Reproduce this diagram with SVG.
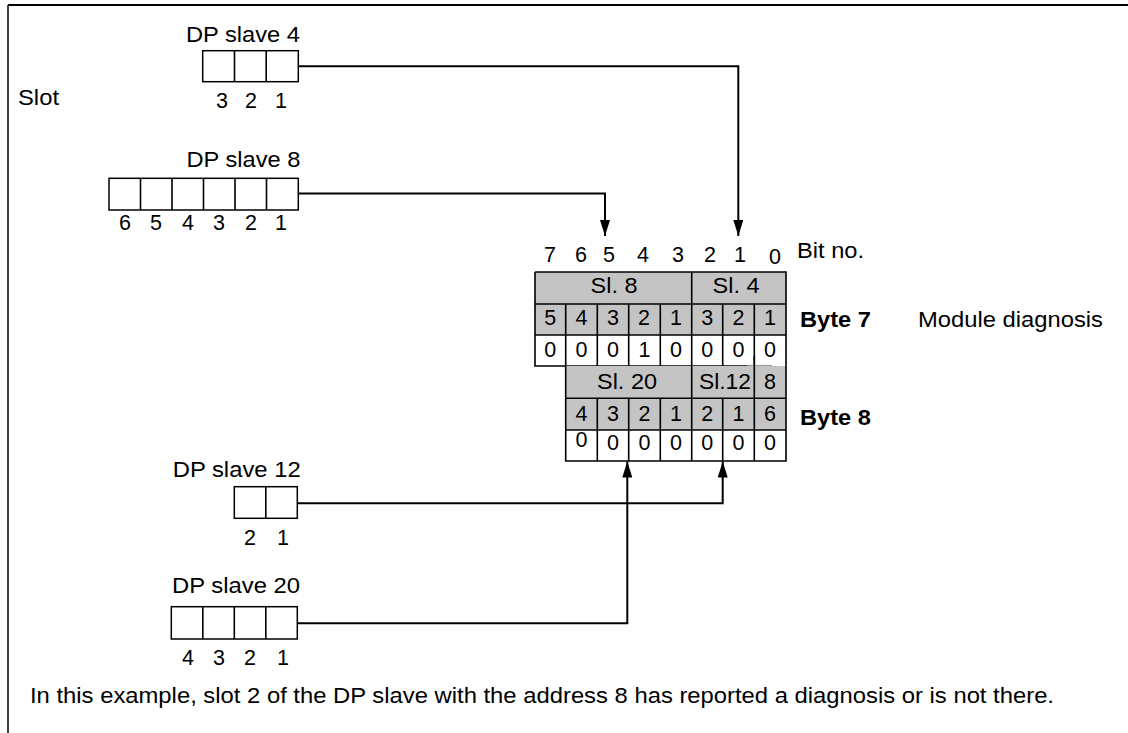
<svg xmlns="http://www.w3.org/2000/svg" width="1128" height="733" viewBox="0 0 1128 733">
<defs>
<marker id="arr" viewBox="0 0 16 10" refX="16" refY="5" markerWidth="16" markerHeight="10" markerUnits="userSpaceOnUse" orient="auto">
<path d="M0,0 L16,5 L0,10 Z" fill="#000"/>
</marker>
<style>
text{font-family:"Liberation Sans",Arial,Helvetica,sans-serif;font-size:21.5px;fill:#000}
.b{font-weight:bold}
.m{text-anchor:middle}
.e{text-anchor:end}
.box{fill:#fff;stroke:#000;stroke-width:1.5}
.ln{stroke:#000;stroke-width:1.6;fill:none}
.g{fill:#c4c4c4}
.w{fill:#fff}
.con{stroke:#000;stroke-width:2;fill:none}
</style>
</defs>
<rect width="1128" height="733" fill="#fff"/>
<g id="frame">
<line x1="8" y1="5" x2="1128" y2="5" stroke="#000" stroke-width="2"/>
<line x1="8" y1="5" x2="8" y2="733" stroke="#000" stroke-width="1.5"/>
</g>
<text x="18" y="105" textLength="41" lengthAdjust="spacingAndGlyphs">Slot</text>

<g id="slave4">
<text x="300" y="41.7" class="e" textLength="114" lengthAdjust="spacingAndGlyphs">DP slave 4</text>
<rect class="box" x="202.7" y="50.7" width="95.6" height="31"/>
<path class="ln" d="M234.5,50.7V81.7M266.2,50.7V81.7"/>
<text x="222" y="108.3" class="m">3</text>
<text x="251" y="108.3" class="m">2</text>
<text x="281" y="108.3" class="m">1</text>
</g>

<g id="slave8">
<text x="300.5" y="166.7" class="e" textLength="114" lengthAdjust="spacingAndGlyphs">DP slave 8</text>
<rect class="box" x="109" y="178.3" width="189.3" height="31.7"/>
<path class="ln" d="M140.5,178.3V210M172,178.3V210M203.5,178.3V210M235,178.3V210M266.5,178.3V210"/>
<text x="125" y="230" class="m">6</text>
<text x="156" y="230" class="m">5</text>
<text x="188" y="230" class="m">4</text>
<text x="219" y="230" class="m">3</text>
<text x="251" y="230" class="m">2</text>
<text x="281" y="230" class="m">1</text>
</g>

<g id="slave12">
<text x="300.7" y="476.7" class="e" textLength="128" lengthAdjust="spacingAndGlyphs">DP slave 12</text>
<rect class="box" x="234.3" y="486.7" width="63" height="31.6"/>
<path class="ln" d="M265.8,486.7V518.3"/>
<text x="250" y="545" class="m">2</text>
<text x="283" y="545" class="m">1</text>
</g>

<g id="slave20">
<text x="300" y="593.3" class="e" textLength="128" lengthAdjust="spacingAndGlyphs">DP slave 20</text>
<rect class="box" x="171.3" y="606.7" width="126" height="32.3"/>
<path class="ln" d="M202.8,606.7V639M234.3,606.7V639M265.8,606.7V639"/>
<text x="188" y="665" class="m">4</text>
<text x="219" y="665" class="m">3</text>
<text x="250" y="665" class="m">2</text>
<text x="283" y="665" class="m">1</text>
</g>

<g id="bitno">
<text x="550" y="262" class="m">7</text>
<text x="581" y="262" class="m">6</text>
<text x="609" y="262" class="m">5</text>
<text x="643" y="262" class="m">4</text>
<text x="678" y="262" class="m">3</text>
<text x="710" y="262" class="m">2</text>
<text x="740" y="262" class="m">1</text>
<text x="775" y="264" class="m">0</text>
<text x="797" y="258" textLength="67" lengthAdjust="spacingAndGlyphs">Bit no.</text>
</g>

<g id="byte7">
<rect class="g" x="535" y="272" width="251" height="63"/>
<rect class="w" x="535" y="335" width="251" height="31"/>
<path class="ln" d="M535,272H786V366M535,272V366H747M535,304H786M535,335H786M691.7,272V366M565.7,304V366M597.3,304V366M628.7,304V366M660.3,304V366M722.7,304V366M754.3,304V366"/>
<line x1="747" y1="365.7" x2="772" y2="365.7" stroke="#999" stroke-width="1.6"/>
<text x="614" y="293.3" class="m" textLength="47" lengthAdjust="spacingAndGlyphs">Sl. 8</text>
<text x="736" y="293.3" class="m" textLength="47" lengthAdjust="spacingAndGlyphs">Sl. 4</text>
<text x="550.2" y="325" class="m">5</text>
<text x="581.5" y="325" class="m">4</text>
<text x="613" y="325" class="m">3</text>
<text x="644" y="325" class="m">2</text>
<text x="676" y="325" class="m">1</text>
<text x="707.2" y="325" class="m">3</text>
<text x="738.5" y="325" class="m">2</text>
<text x="770" y="325" class="m">1</text>
<text x="550.2" y="356.7" class="m">0</text>
<text x="581.5" y="356.7" class="m">0</text>
<text x="613" y="356.7" class="m">0</text>
<text x="644.5" y="356.7" class="m">1</text>
<text x="676" y="356.7" class="m">0</text>
<text x="707.2" y="356.7" class="m">0</text>
<text x="738.5" y="356.7" class="m">0</text>
<text x="770" y="356.7" class="m">0</text>
<text x="800" y="326.7" class="b" textLength="71" lengthAdjust="spacingAndGlyphs">Byte 7</text>
<text x="918" y="326.7" textLength="185" lengthAdjust="spacingAndGlyphs">Module diagnosis</text>
</g>

<g id="byte8">
<rect class="g" x="565.7" y="366" width="220.3" height="64"/>
<rect class="w" x="565.7" y="430" width="220.3" height="31"/>
<path class="ln" d="M565.7,366V461H786V366M565.7,398.3H786M565.7,430H786M691.7,366V461M754.3,356V461M597.3,398.3V461M628.7,398.3V461M660.3,398.3V461M722.7,398.3V461"/>
<text x="627" y="389.3" class="m" textLength="60" lengthAdjust="spacingAndGlyphs">Sl. 20</text>
<text x="725" y="389.3" class="m" textLength="52" lengthAdjust="spacingAndGlyphs">Sl.12</text>
<text x="770" y="389.3" class="m">8</text>
<text x="581.5" y="421" class="m">4</text>
<text x="613" y="421" class="m">3</text>
<text x="644.5" y="421" class="m">2</text>
<text x="676" y="421" class="m">1</text>
<text x="707.2" y="421" class="m">2</text>
<text x="738.5" y="421" class="m">1</text>
<text x="770" y="421" class="m">6</text>
<text x="581.5" y="447" class="m">0</text>
<text x="613" y="450" class="m">0</text>
<text x="644.5" y="450" class="m">0</text>
<text x="676" y="450" class="m">0</text>
<text x="707.2" y="450" class="m">0</text>
<text x="738.5" y="450" class="m">0</text>
<text x="770" y="450" class="m">0</text>
<text x="800" y="425" class="b" textLength="71" lengthAdjust="spacingAndGlyphs">Byte 8</text>
</g>

<g id="connectors">
<path class="con" d="M298.3,66.2H738.3V236" marker-end="url(#arr)"/>
<path class="con" d="M298.3,193.5H605V236" marker-end="url(#arr)"/>
<path class="con" d="M297.3,503.3H722.7V461.5" marker-end="url(#arr)"/>
<path class="con" d="M297.3,623.3H627.3V461.5" marker-end="url(#arr)"/>
</g>

<text x="30" y="703.3" textLength="1024" lengthAdjust="spacingAndGlyphs">In this example, slot 2 of the DP slave with the address 8 has reported a diagnosis or is not there.</text>
</svg>
